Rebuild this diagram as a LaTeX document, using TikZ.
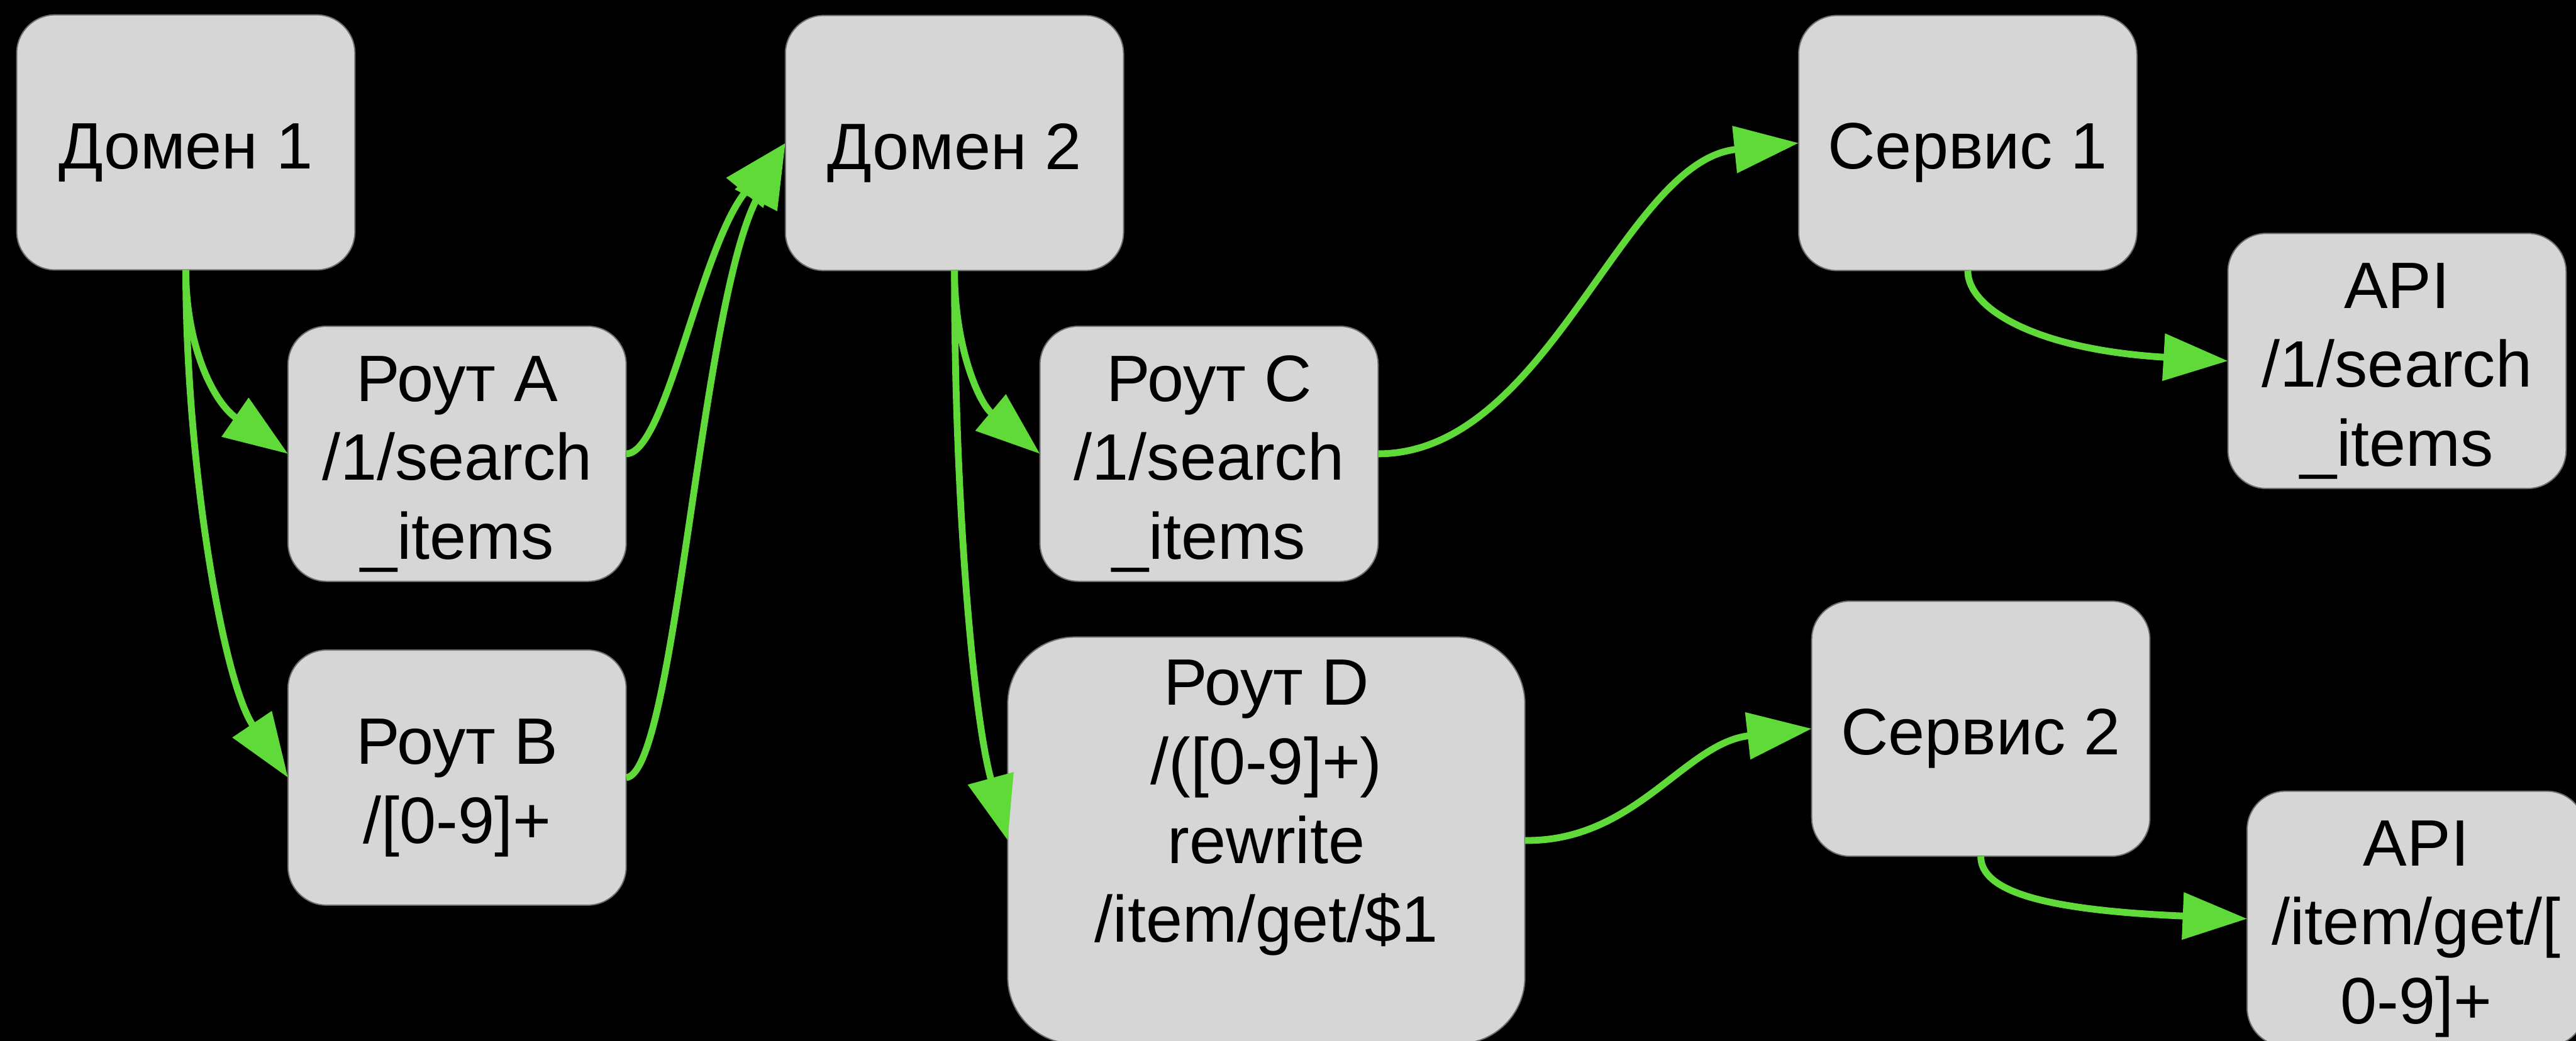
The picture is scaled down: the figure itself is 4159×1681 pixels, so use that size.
\documentclass[tikz,border=0pt]{standalone}
\usepackage{fontspec}
\setmainfont{Liberation Sans}
\usetikzlibrary{arrows.meta}

\definecolor{boxfill}{HTML}{D6D6D6}
\definecolor{boxline}{HTML}{707070}
\definecolor{flow}{HTML}{5FDA38}

\newcommand{\lbl}{\fontsize{26.5}{31.9}\selectfont}
% invisible strut on the first line: lowers the text block a little in its box
\newcommand{\toplift}{\rule{0pt}{26.5pt}}

\tikzset{
  card/.style={draw=boxline, fill=boxfill, line width=0.5pt,
    rounded corners=15.5pt, minimum width=136.5pt, minimum height=103pt,
    inner sep=0pt, outer sep=0pt, align=center, font=\lbl},
  bigcard/.style={draw=boxline, fill=boxfill, line width=0.5pt,
    rounded corners=27pt, minimum width=208.75pt, minimum height=164.25pt,
    inner sep=0pt, outer sep=0pt},
  caption/.style={inner sep=0pt, align=center, font=\lbl},
  edge/.style={draw=flow, line width=2.75pt,
    -{Triangle[length=26pt, width=18.5pt, fill=flow]}},
}

\begin{document}
\begin{tikzpicture}[x=0.25pt, y=-0.25pt]
  % canvas
  \fill[black] (0,0) rectangle (4159,1681);
  \useasboundingbox (0,0) rectangle (4159,1681);

  % domains
  \node[card] (d1) at (300,230) {\toplift Домен 1};
  \node[card] (d2) at (1541,231) {\toplift Домен 2};

  % routes
  \node[card] (ra) at (738,733) {\toplift Роут A\\/1/search\\\_items};
  \node[card] (rb) at (738,1256) {\toplift Роут B\\/[0-9]+};
  \node[card] (rc) at (1952,733) {\toplift Роут C\\/1/search\\\_items};
  \node[bigcard] (rd) at (2044.5,1357.5) {};
  \node[caption] (rdtext) at (2044.5,1305) {Роут D\\/([0-9]+)\\rewrite\\/item/get/\$1};

  % services
  \node[card] (s1) at (3177,231) {\toplift Сервис 1};
  \node[card] (s2) at (3198,1177) {\toplift Сервис 2};

  % endpoints
  \node[card] (api1) at (3870,583) {\toplift API\\/1/search\\\_items};
  \node[card] (api2) at (3901,1484) {\toplift API\\/item/get/[\\0-9]+};

  % domain -> routes
  \draw[edge] (d1.south) .. controls (300,560) and (345,650) .. (ra.west);
  \draw[edge] (d1.south) .. controls (300,750) and (360,1100) .. (rb.west);
  \draw[edge] (d2.south) .. controls (1541,560) and (1580,650) .. (rc.west);
  \draw[edge] (d2.south) .. controls (1541,800) and (1570,1150) .. (rd.west);

  % routes of domain 1 lead on to domain 2
  \draw[edge] (ra.east) .. controls (1075,733) and (1130,400) .. (d2.west);
  \draw[edge] (rb.east) .. controls (1090,1250) and (1130,500) .. (d2.west);

  % routes of domain 2 lead to services
  \draw[edge] (rc.east) .. controls (2500,733) and (2620,260) .. (s1.west);
  \draw[edge] (rd.east) .. controls (2640,1360) and (2720,1200) .. (s2.west);

  % services -> endpoints
  \draw[edge] (s1.south) .. controls (3177,500) and (3290,565) .. (api1.west);
  \draw[edge] (s2.south) .. controls (3198,1440) and (3300,1470) .. (api2.west);
\end{tikzpicture}
\end{document}
